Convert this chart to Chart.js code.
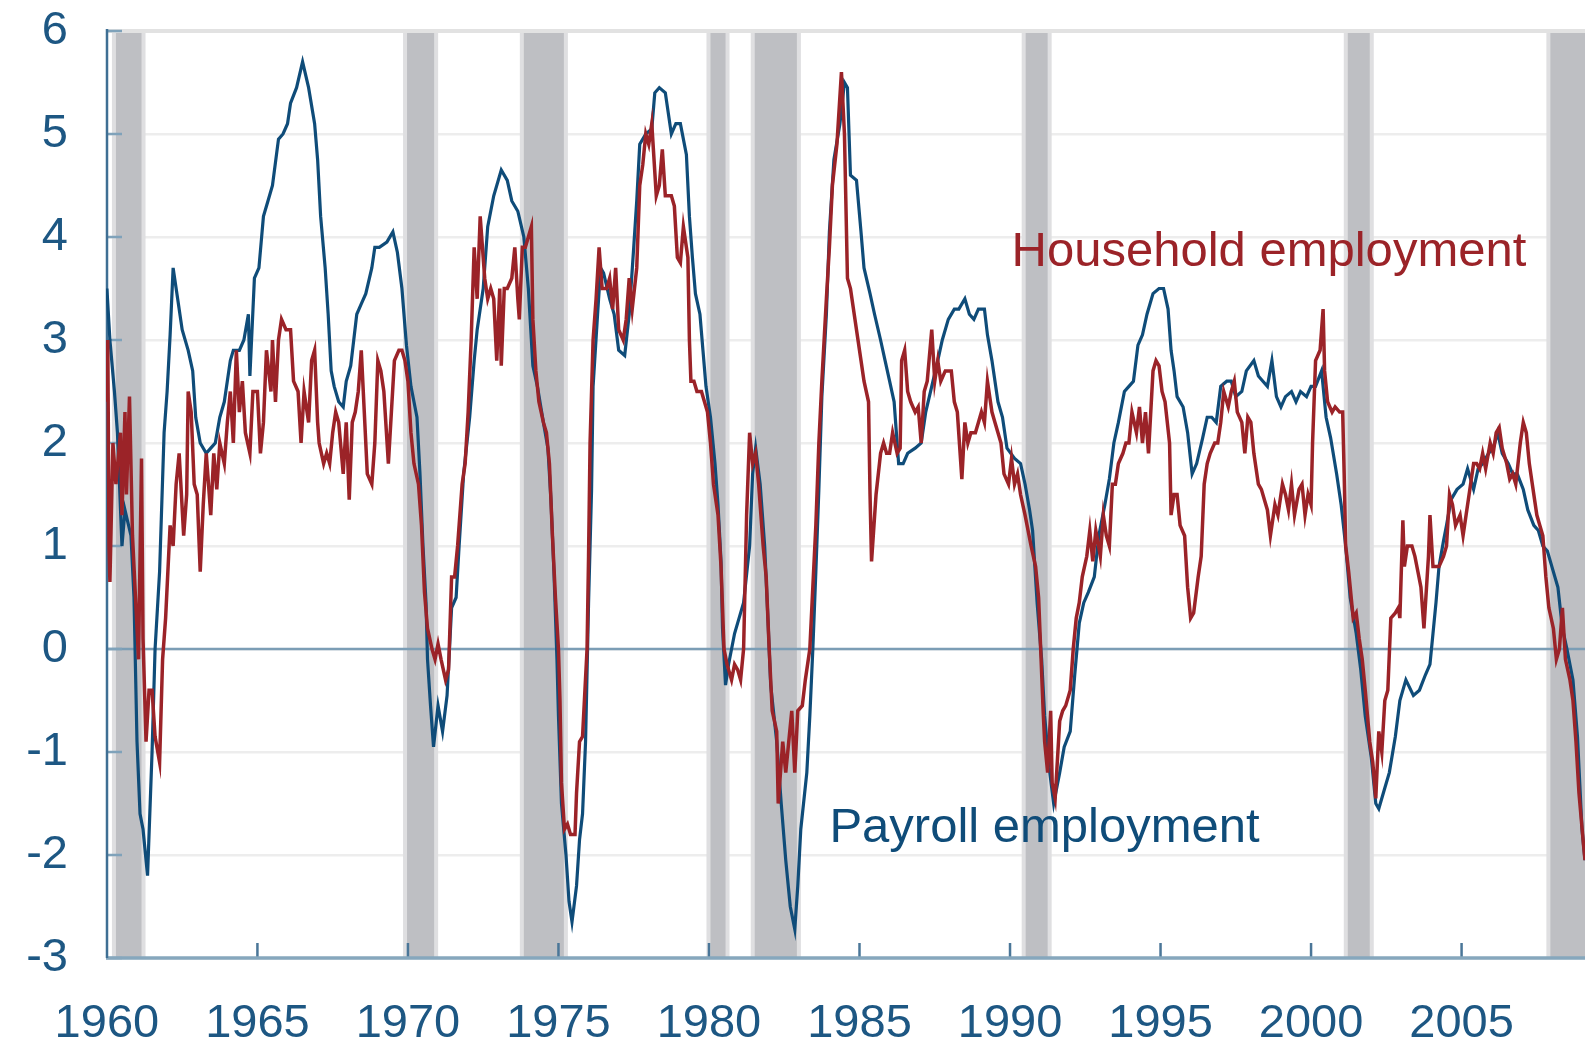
<!DOCTYPE html>
<html>
<head>
<meta charset="utf-8">
<script src="https://cdn.jsdelivr.net/npm/chart.js@4"></script>
<style>
  body { margin: 0; background: #fff; }
  canvas { display: block; }
</style>
</head>
<body>
<canvas id="chart" width="1585" height="1042"></canvas>
<script>
// year-over-year % change
const payrollYears = [
  1960.0,1960.1,1960.25,1960.35,1960.5,1960.6,1960.8,1960.9,1961.0,1961.1,1961.2,1961.35,1961.5,1961.6,1961.75,1961.9,
  1962.0,1962.1,1962.2,1962.35,1962.5,1962.7,1962.85,1962.95,1963.1,1963.3,1963.45,1963.6,1963.75,1963.9,
  1964.1,1964.2,1964.4,1964.55,1964.7,1964.75,1964.9,1965.05,1965.2,1965.35,1965.5,1965.7,1965.85,
  1966.0,1966.1,1966.3,1966.5,1966.7,1966.9,1967.0,1967.1,1967.25,1967.35,1967.45,1967.55,1967.7,1967.85,1967.95,
  1968.1,1968.3,1968.45,1968.6,1968.8,1968.9,1969.05,1969.3,1969.5,1969.65,1969.8,1969.95,
  1970.1,1970.3,1970.4,1970.5,1970.6,1970.65,1970.75,1970.85,1971.0,1971.15,1971.3,1971.45,1971.6,1971.7,1971.85,
  1972.05,1972.2,1972.3,1972.5,1972.65,1972.85,1973.1,1973.3,1973.45,1973.65,1973.85,
  1974.0,1974.15,1974.3,1974.5,1974.65,1974.75,1974.85,1974.95,1975.0,1975.1,1975.25,1975.35,1975.45,1975.6,1975.7,1975.8,1975.9,
  1976.0,1976.1,1976.15,1976.3,1976.4,1976.5,1976.7,1976.85,1977.0,1977.2,1977.35,1977.5,1977.6,1977.7,1977.9,
  1978.1,1978.2,1978.35,1978.55,1978.75,1978.9,1979.05,1979.25,1979.35,1979.45,1979.55,1979.7,1979.8,1979.9,
  1980.05,1980.2,1980.3,1980.4,1980.45,1980.55,1980.65,1980.85,1981.0,1981.15,1981.35,1981.45,1981.55,1981.7,1981.85,1981.95,
  1982.05,1982.25,1982.4,1982.55,1982.7,1982.85,1982.95,1983.05,1983.25,1983.35,1983.45,1983.55,1983.65,1983.75,1983.9,
  1984.0,1984.15,1984.35,1984.5,1984.6,1984.7,1984.9,1985.05,1985.15,1985.35,1985.5,1985.7,1985.85,
  1986.0,1986.15,1986.3,1986.45,1986.6,1986.85,1987.05,1987.2,1987.4,1987.6,1987.75,1987.95,
  1988.15,1988.3,1988.5,1988.65,1988.8,1988.95,1989.15,1989.25,1989.4,1989.6,1989.75,1989.9,
  1990.15,1990.35,1990.5,1990.65,1990.75,1990.9,1991.05,1991.15,1991.3,1991.45,1991.65,1991.8,
  1992.0,1992.15,1992.3,1992.45,1992.6,1992.8,1992.95,1993.15,1993.3,1993.45,1993.6,1993.8,1993.95,
  1994.1,1994.25,1994.4,1994.55,1994.75,1994.95,1995.1,1995.25,1995.35,1995.45,1995.55,1995.75,1995.9,
  1996.05,1996.2,1996.4,1996.55,1996.7,1996.85,1997.0,1997.2,1997.35,1997.5,1997.7,1997.85,
  1998.1,1998.25,1998.4,1998.55,1998.7,1998.85,1999.0,1999.15,1999.35,1999.5,1999.65,1999.85,
  2000.0,2000.15,2000.35,2000.5,2000.65,2000.85,2001.0,2001.15,2001.3,2001.5,2001.65,2001.8,
  2002.0,2002.15,2002.25,2002.45,2002.6,2002.8,2002.95,2003.15,2003.4,2003.6,2003.8,2003.95,
  2004.05,2004.15,2004.25,2004.4,2004.5,2004.65,2004.85,2005.05,2005.2,2005.4,2005.55,2005.7,2005.9,
  2006.05,2006.2,2006.35,2006.55,2006.7,2006.85,2007.05,2007.2,2007.4,2007.55,2007.7,2007.85,
  2008.0,2008.2,2008.35,2008.5,2008.7,2008.85,2009.0,2009.1
];
const payrollValues = [
  3.5,3.0,2.5,2.1,1.0,1.35,1.1,0.5,-0.9,-1.6,-1.75,-2.2,-1.0,0.0,0.75,2.1,
  2.5,3.05,3.7,3.4,3.1,2.9,2.7,2.25,2.0,1.9,1.95,2.0,2.25,2.4,
  2.8,2.9,2.9,3.0,3.25,2.65,3.6,3.7,4.2,4.35,4.5,4.95,5.0,
  5.1,5.3,5.45,5.7,5.45,5.1,4.75,4.2,3.7,3.25,2.7,2.55,2.4,2.35,2.6,
  2.75,3.25,3.35,3.45,3.7,3.9,3.9,3.95,4.05,3.85,3.5,2.95,
  2.55,2.25,1.7,1.0,0.45,-0.1,-0.55,-0.95,-0.55,-0.8,-0.45,0.4,0.5,1.0,1.7,
  2.25,2.8,3.1,3.5,4.1,4.4,4.65,4.55,4.35,4.25,4.0,
  3.5,2.75,2.55,2.2,1.95,1.45,0.75,-0.1,-0.65,-1.5,-2.0,-2.45,-2.65,-2.3,-1.85,-1.6,-0.9,
  0.45,1.55,2.55,3.25,3.7,3.65,3.4,3.25,2.9,2.85,3.25,3.9,4.35,4.9,5.0,
  5.05,5.4,5.45,5.4,5.0,5.1,5.1,4.8,4.2,3.8,3.45,3.25,2.9,2.55,
  2.25,1.8,1.4,0.85,0.2,-0.35,-0.15,0.15,0.3,0.45,1.0,1.7,1.95,1.6,1.0,0.35,
  -0.35,-0.9,-1.5,-2.05,-2.5,-2.72,-2.3,-1.75,-1.2,-0.65,0.0,0.75,1.55,2.45,3.25,
  4.05,4.75,5.1,5.5,5.45,4.6,4.55,4.05,3.7,3.45,3.25,3.0,2.8,
  2.6,2.4,1.8,1.8,1.9,1.95,2.0,2.3,2.55,2.8,3.0,3.2,
  3.3,3.3,3.4,3.25,3.2,3.3,3.3,3.05,2.8,2.4,2.25,1.95,
  1.85,1.8,1.6,1.35,1.15,0.45,-0.1,-0.65,-1.15,-1.5,-1.2,-0.95,
  -0.8,-0.25,0.25,0.45,0.55,0.7,1.1,1.4,1.65,2.0,2.2,2.5,2.55,
  2.6,2.95,3.05,3.25,3.45,3.5,3.5,3.3,2.9,2.7,2.45,2.35,2.1,
  1.7,1.8,2.05,2.25,2.25,2.2,2.55,2.6,2.6,2.45,2.5,2.7,
  2.8,2.65,2.6,2.55,2.8,2.45,2.35,2.45,2.5,2.4,2.5,2.45,
  2.55,2.55,2.7,2.25,2.05,1.7,1.4,1.0,0.5,0.15,-0.2,-0.65,
  -1.05,-1.5,-1.55,-1.35,-1.2,-0.85,-0.5,-0.3,-0.45,-0.4,-0.25,-0.15,
  0.15,0.45,0.8,1.05,1.2,1.45,1.55,1.6,1.75,1.55,1.75,1.8,1.9,
  1.95,2.1,1.9,1.8,1.7,1.7,1.55,1.35,1.2,1.15,1.0,0.95,
  0.8,0.6,0.2,0.0,-0.3,-0.85,-1.75,-2.05
];

const householdYears = [
  1960.0,1960.03,1960.07,1960.1,1960.2,1960.3,1960.45,1960.5,1960.6,1960.65,1960.75,1960.85,1960.95,
  1961.0,1961.05,1961.15,1961.2,1961.3,1961.4,1961.5,1961.6,1961.75,1961.85,1961.95,
  1962.1,1962.2,1962.3,1962.4,1962.55,1962.65,1962.7,1962.8,1962.9,
  1963.0,1963.1,1963.2,1963.3,1963.45,1963.55,1963.65,1963.75,1963.9,
  1964.0,1964.1,1964.2,1964.3,1964.4,1964.5,1964.6,1964.75,1964.85,
  1965.0,1965.1,1965.2,1965.3,1965.45,1965.5,1965.6,1965.7,1965.8,1965.95,
  1966.1,1966.2,1966.35,1966.45,1966.55,1966.7,1966.8,1966.9,
  1967.0,1967.05,1967.2,1967.3,1967.4,1967.5,1967.6,1967.7,1967.85,1967.95,
  1968.05,1968.15,1968.25,1968.35,1968.45,1968.55,1968.65,1968.8,1968.9,
  1969.0,1969.1,1969.2,1969.35,1969.45,1969.55,1969.7,1969.8,1969.9,
  1970.0,1970.1,1970.2,1970.35,1970.45,1970.55,1970.65,1970.8,1970.9,
  1971.0,1971.1,1971.25,1971.35,1971.45,1971.55,1971.65,1971.8,1971.9,
  1972.0,1972.1,1972.2,1972.3,1972.4,1972.55,1972.65,1972.75,1972.85,1972.95,
  1973.05,1973.1,1973.2,1973.3,1973.45,1973.55,1973.65,1973.7,1973.8,1973.9,
  1974.1,1974.15,1974.25,1974.35,1974.5,1974.6,1974.7,1974.8,1974.9,
  1975.0,1975.05,1975.1,1975.2,1975.3,1975.4,1975.55,1975.6,1975.7,1975.8,1975.95,
  1976.0,1976.05,1976.15,1976.25,1976.35,1976.45,1976.6,1976.7,1976.8,1976.9,
  1977.0,1977.15,1977.25,1977.35,1977.45,1977.6,1977.7,1977.8,1977.9,
  1978.0,1978.1,1978.25,1978.35,1978.45,1978.55,1978.75,1978.85,1978.95,
  1979.05,1979.15,1979.3,1979.35,1979.4,1979.5,1979.6,1979.75,1979.85,1979.95,
  1980.05,1980.15,1980.3,1980.4,1980.5,1980.6,1980.75,1980.85,1980.95,
  1981.05,1981.15,1981.25,1981.35,1981.45,1981.55,1981.65,1981.8,1981.9,
  1982.0,1982.1,1982.25,1982.3,1982.45,1982.55,1982.65,1982.75,1982.85,1982.95,
  1983.1,1983.2,1983.35,1983.45,1983.55,1983.65,1983.75,1983.9,
  1984.0,1984.1,1984.25,1984.4,1984.5,1984.6,1984.7,1984.85,1984.95,
  1985.05,1985.15,1985.3,1985.35,1985.4,1985.55,1985.7,1985.8,1985.9,
  1986.0,1986.1,1986.25,1986.35,1986.4,1986.5,1986.6,1986.7,1986.85,1986.95,
  1987.05,1987.15,1987.25,1987.4,1987.5,1987.6,1987.7,1987.85,1987.95,
  1988.05,1988.15,1988.25,1988.4,1988.5,1988.6,1988.7,1988.85,1988.95,
  1989.05,1989.15,1989.25,1989.4,1989.5,1989.6,1989.7,1989.8,1989.95,
  1990.05,1990.15,1990.25,1990.35,1990.5,1990.7,1990.85,1990.95,
  1991.1,1991.15,1991.25,1991.35,1991.4,1991.5,1991.65,1991.75,1991.85,
  1992.0,1992.1,1992.2,1992.3,1992.4,1992.55,1992.65,1992.75,1992.85,
  1993.0,1993.1,1993.2,1993.3,1993.4,1993.5,1993.6,1993.75,1993.85,1993.95,
  1994.05,1994.2,1994.3,1994.4,1994.5,1994.6,1994.75,1994.85,1994.95,
  1995.05,1995.15,1995.3,1995.35,1995.45,1995.55,1995.65,1995.8,1995.9,
  1996.0,1996.1,1996.25,1996.35,1996.45,1996.55,1996.65,1996.8,1996.9,
  1997.0,1997.1,1997.25,1997.35,1997.45,1997.55,1997.7,1997.8,1997.9,
  1998.0,1998.1,1998.25,1998.35,1998.45,1998.55,1998.65,1998.8,1998.9,
  1999.05,1999.15,1999.25,1999.35,1999.45,1999.6,1999.7,1999.8,1999.9,
  2000.0,2000.05,2000.15,2000.3,2000.4,2000.45,2000.55,2000.7,2000.8,2000.95,
  2001.05,2001.1,2001.15,2001.25,2001.4,2001.5,2001.6,2001.7,2001.8,2001.95,
  2002.05,2002.15,2002.25,2002.35,2002.45,2002.55,2002.65,2002.8,2002.9,2002.95,
  2003.05,2003.1,2003.2,2003.35,2003.45,2003.55,2003.65,2003.75,2003.9,2003.95,
  2004.05,2004.15,2004.25,2004.4,2004.5,2004.6,2004.7,2004.8,2004.95,
  2005.05,2005.15,2005.25,2005.4,2005.5,2005.6,2005.7,2005.8,2005.95,
  2006.05,2006.15,2006.25,2006.35,2006.5,2006.6,2006.7,2006.8,2006.95,
  2007.05,2007.15,2007.25,2007.35,2007.5,2007.6,2007.7,2007.8,2007.9,
  2008.05,2008.15,2008.25,2008.35,2008.45,2008.6,2008.7,2008.8,2008.9,2009.05,2009.1
];
const householdValues = [
  2.4,3.0,1.0,0.65,2.0,1.6,2.1,1.3,2.3,1.5,2.45,1.1,0.5,
  0.2,-0.1,1.85,0.1,-0.9,-0.4,-0.4,-0.85,-1.1,-0.1,0.3,
  1.2,1.0,1.6,1.9,1.1,1.5,2.5,2.3,1.6,
  1.5,0.75,1.4,1.9,1.3,1.9,1.55,2.0,1.8,
  2.2,2.5,2.0,2.9,2.3,2.6,2.1,1.9,2.5,
  2.5,1.9,2.2,2.9,2.5,3.0,2.4,3.0,3.2,3.1,
  3.1,2.6,2.5,2.0,2.5,2.2,2.8,2.9,
  2.2,2.0,1.8,1.9,1.8,2.1,2.3,2.2,1.7,2.2,
  1.45,2.2,2.3,2.5,2.9,2.3,1.7,1.6,2.0,
  2.8,2.7,2.5,1.8,2.3,2.8,2.9,2.9,2.8,
  2.6,2.1,1.8,1.6,1.2,0.55,0.2,0.0,-0.1,
  0.05,-0.1,-0.3,-0.2,0.7,0.7,1.0,1.6,1.8,
  2.3,3.0,3.9,3.4,4.2,3.6,3.4,3.5,3.4,2.8,
  3.5,2.75,3.5,3.5,3.6,3.9,3.4,3.2,3.9,3.9,
  4.1,3.2,2.7,2.4,2.2,2.1,1.8,1.1,0.5,
  0.0,-0.5,-1.3,-1.75,-1.7,-1.8,-1.8,-1.4,-0.9,-0.85,0.0,
  0.9,2.0,3.0,3.4,3.9,3.5,3.5,3.6,3.3,3.7,
  3.1,3.0,3.2,3.6,3.3,3.7,4.5,4.7,5.0,
  4.9,5.1,4.4,4.5,4.85,4.4,4.4,4.3,3.8,
  3.75,4.1,3.8,3.0,2.6,2.6,2.5,2.5,2.4,2.3,
  2.0,1.6,1.3,0.8,0.0,-0.15,-0.3,-0.15,-0.2,
  -0.3,0.0,1.3,2.1,1.8,1.9,1.6,1.0,0.7,
  0.0,-0.6,-0.8,-1.5,-0.9,-1.2,-0.9,-0.6,-1.2,-0.6,
  -0.55,-0.3,0.0,0.6,1.2,2.0,2.6,3.4,
  3.9,4.5,4.9,5.6,5.0,3.6,3.5,3.2,3.0,
  2.8,2.6,2.4,1.5,0.85,1.5,1.9,2.0,1.9,
  1.9,2.1,1.9,1.95,2.8,2.9,2.5,2.4,2.3,2.35,
  2.0,2.5,2.6,3.1,2.6,2.8,2.6,2.7,2.7,
  2.7,2.4,2.3,1.65,2.2,2.0,2.1,2.1,2.2,
  2.3,2.2,2.6,2.3,2.2,2.1,2.0,1.7,1.6,
  1.85,1.6,1.7,1.5,1.3,1.0,0.8,0.5,
  -0.6,-0.9,-1.2,-0.6,-1.3,-1.45,-0.7,-0.6,-0.55,
  -0.4,0.0,0.3,0.45,0.7,0.9,1.15,0.85,1.15,
  0.9,1.3,1.1,1.0,1.6,1.6,1.8,1.9,2.0,2.0,
  2.3,2.1,2.35,2.0,2.3,1.9,2.7,2.8,2.75,
  2.5,2.4,2.0,1.3,1.5,1.5,1.2,1.1,0.6,
  0.3,0.35,0.7,0.9,1.6,1.8,1.9,2.0,2.0,
  2.2,2.5,2.35,2.5,2.6,2.3,2.2,1.9,2.25,
  2.2,1.9,1.6,1.55,1.45,1.35,1.1,1.4,1.3,
  1.6,1.5,1.35,1.6,1.3,1.55,1.6,1.3,1.5,
  1.4,2.0,2.8,2.9,3.3,2.7,2.4,2.3,2.35,2.3,
  2.3,1.7,1.0,0.75,0.3,0.35,0.1,-0.1,-0.4,-0.9,
  -1.1,-1.45,-0.8,-1.0,-0.5,-0.4,0.3,0.35,0.4,0.3,
  1.25,0.8,1.0,1.0,0.9,0.75,0.6,0.2,0.9,1.3,
  0.8,0.8,0.8,0.9,1.0,1.5,1.4,1.2,1.3,
  1.1,1.3,1.5,1.8,1.8,1.75,1.9,1.75,2.0,
  1.9,2.1,2.15,1.95,1.8,1.65,1.7,1.6,2.0,
  2.2,2.1,1.8,1.6,1.3,1.2,1.1,0.7,0.4,
  0.2,-0.1,0.0,0.4,-0.1,-0.3,-0.5,-0.9,-1.4,-1.9,-2.05
];

const xTickValues = [1960, 1965, 1970, 1975, 1980, 1985, 1990, 1995, 2000, 2005];
const yTickValues = [-3, -2, -1, 0, 1, 2, 3, 4, 5, 6];
const yTickLabels = ['-3', '-2', '-1', '0', '1', '2', '3', '4', '5', '6'];

// NBER recessions
const recessionStart = [1960.3, 1969.97, 1973.85, 1980.05, 1981.52, 1990.52, 2001.22, 2007.95];
const recessionEnd = [1961.15, 1970.87, 1975.18, 1980.55, 1982.92, 1991.25, 2001.95, 2009.5];

const blue = '#0f4c79';
const red = '#9b2328';
const textBlue = '#1d5783';
const tickFont = { family: 'Liberation Sans, Arial, sans-serif', size: 47 };

function toPoints(xs, ys) {
  return xs.map((x, i) => ({ x: x, y: ys[i] }));
}

const backdrop = {
  id: 'backdrop',
  beforeDatasetsDraw(chart) {
    const { ctx, chartArea: a, scales: { x, y } } = chart;
    ctx.save();
    // recession bands
    for (let i = 0; i < recessionStart.length; i++) {
      const x0 = x.getPixelForValue(recessionStart[i]);
      const x1 = Math.min(x.getPixelForValue(recessionEnd[i]), a.right + 10);
      ctx.fillStyle = '#dfdfe1';
      ctx.fillRect(x0 - 4, a.top, x1 - x0 + 8, a.bottom - a.top);
      ctx.fillStyle = '#bebfc3';
      ctx.fillRect(x0, a.top, x1 - x0, a.bottom - a.top);
    }
    // top line
    ctx.strokeStyle = '#e2e2e2';
    ctx.lineWidth = 4;
    ctx.beginPath();
    ctx.moveTo(a.left, y.getPixelForValue(6));
    ctx.lineTo(a.right, y.getPixelForValue(6));
    ctx.stroke();
    // zero line
    ctx.strokeStyle = '#7b9db5';
    ctx.lineWidth = 2.5;
    ctx.beginPath();
    ctx.moveTo(a.left, y.getPixelForValue(0));
    ctx.lineTo(a.right, y.getPixelForValue(0));
    ctx.stroke();
    // tick marks, inside the plot
    ctx.strokeStyle = '#7fa2ba';
    ctx.lineWidth = 2.5;
    yTickValues.forEach(v => {
      const py = y.getPixelForValue(v);
      ctx.beginPath();
      ctx.moveTo(a.left, py);
      ctx.lineTo(a.left + 16, py);
      ctx.stroke();
    });
    ctx.strokeStyle = '#4a7698';
    xTickValues.slice(1).forEach(v => {
      const px = x.getPixelForValue(v);
      ctx.beginPath();
      ctx.moveTo(px, a.bottom);
      ctx.lineTo(px, a.bottom - 15);
      ctx.stroke();
    });
    // axes
    ctx.strokeStyle = '#86a7bd';
    ctx.lineWidth = 3.5;
    ctx.beginPath();
    ctx.moveTo(a.left, a.bottom);
    ctx.lineTo(a.right, a.bottom);
    ctx.stroke();
    ctx.strokeStyle = '#3f6f94';
    ctx.lineWidth = 2.5;
    ctx.beginPath();
    ctx.moveTo(a.left + 1, a.top - 2);
    ctx.lineTo(a.left + 1, a.bottom);
    ctx.stroke();
    ctx.restore();
  },
  afterDatasetsDraw(chart) {
    const { ctx, scales: { x, y } } = chart;
    ctx.save();
    ctx.font = '49px Liberation Sans, Arial, sans-serif';
    ctx.textBaseline = 'alphabetic';
    ctx.textAlign = 'left';
    ctx.fillStyle = red;
    ctx.fillText('Household employment', x.getPixelForValue(1990.05), y.getPixelForValue(3.72));
    ctx.fillStyle = blue;
    ctx.fillText('Payroll employment', x.getPixelForValue(1984.0), y.getPixelForValue(-1.87));
    ctx.restore();
  }
};

new Chart(document.getElementById('chart'), {
  type: 'line',
  data: {
    datasets: [
      {
        label: 'Household employment',
        data: toPoints(householdYears, householdValues),
        borderColor: red,
        borderWidth: 3.5,
        pointRadius: 0,
        tension: 0
      },
      {
        label: 'Payroll employment',
        data: toPoints(payrollYears, payrollValues),
        borderColor: blue,
        borderWidth: 3.2,
        pointRadius: 0,
        tension: 0
      }
    ]
  },
  options: {
    responsive: false,
    animation: false,
    devicePixelRatio: 1,
    layout: { padding: 0 },
    plugins: {
      legend: { display: false },
      tooltip: { enabled: false }
    },
    scales: {
      x: {
        type: 'linear',
        min: 1959.97,
        max: 2009.1,
        afterBuildTicks: s => { s.ticks = xTickValues.map(v => ({ value: v })); },
        afterFit: s => { s.height = 84; s.paddingLeft = 0; s.paddingRight = 0; },
        grid: { display: false, drawTicks: false },
        border: { display: false },
        ticks: {
          autoSkip: false,
          maxRotation: 0,
          padding: 38,
          color: textBlue,
          font: tickFont,
          callback: v => String(v)
        }
      },
      y: {
        min: -3,
        max: 6,
        afterBuildTicks: s => { s.ticks = yTickValues.map(v => ({ value: v })); },
        afterFit: s => { s.width = 106; s.paddingTop = 31; s.paddingBottom = 0; },
        grid: { color: '#ededed', lineWidth: 2.5, drawTicks: false },
        border: { display: false },
        ticks: {
          padding: 38,
          color: textBlue,
          font: tickFont,
          callback: v => yTickLabels[yTickValues.indexOf(v)]
        }
      }
    }
  },
  plugins: [backdrop]
});
</script>
</body>
</html>
